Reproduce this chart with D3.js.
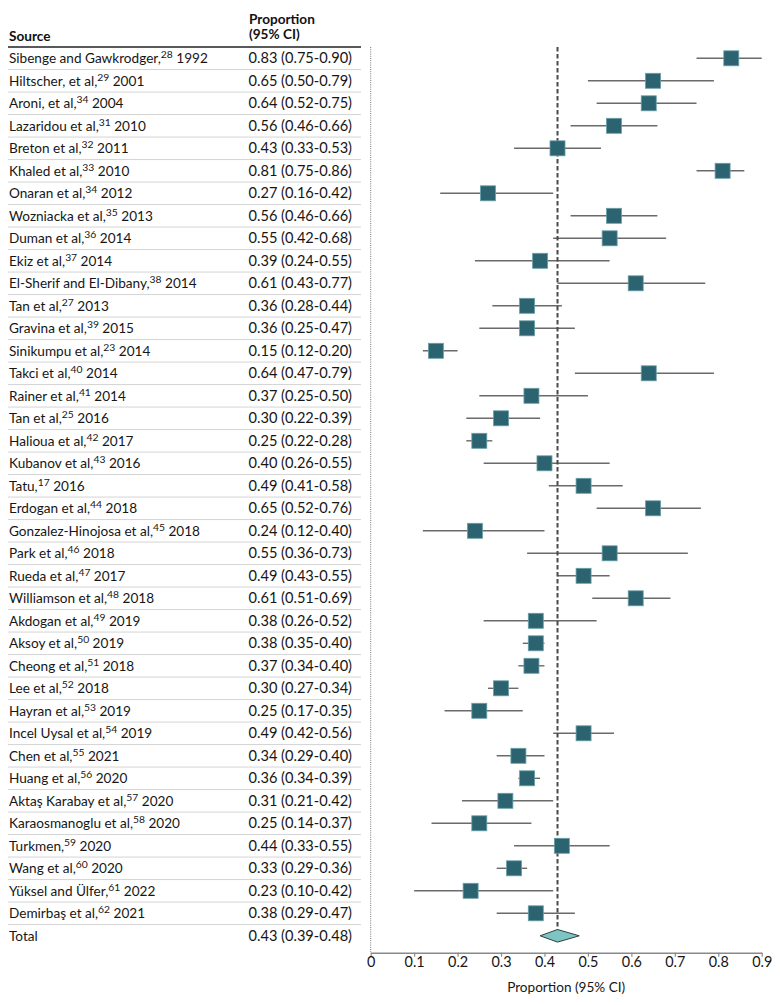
<!DOCTYPE html>
<html><head><meta charset="utf-8">
<script src="https://cdn.jsdelivr.net/npm/d3@7"></script>
<style>
body{margin:0;background:#fff;}
svg{font-family:Lato,"Open Sans",sans-serif;}
</style></head>
<body><svg id="c" width="780" height="1005"></svg>
<script>
const sources = ["Sibenge and Gawkrodger,","Hiltscher, et al,","Aroni, et al,","Lazaridou et al,","Breton et al,","Khaled et al,","Onaran et al,","Wozniacka et al,","Duman et al,","Ekiz et al,","El-Sherif and El-Dibany,","Tan et al,","Gravina et al,","Sinikumpu et al,","Takci et al,","Rainer et al,","Tan et al,","Halioua et al,","Kubanov et al,","Tatu,","Erdogan et al,","Gonzalez-Hinojosa et al,","Park et al,","Rueda et al,","Williamson et al,","Akdogan et al,","Aksoy et al,","Cheong et al,","Lee et al,","Hayran et al,","Incel Uysal et al,","Chen et al,","Huang et al,","Aktaş Karabay et al,","Karaosmanoglu et al,","Turkmen,","Wang et al,","Yüksel and Ülfer,","Demirbaş et al,"];
const refs = ["28","29","34","31","32","33","34","35","36","37","38","27","39","23","40","41","25","42","43","17","44","45","46","47","48","49","50","51","52","53","54","55","56","57","58","59","60","61","62"];
const years = ["1992","2001","2004","2010","2011","2010","2012","2013","2014","2014","2014","2013","2015","2014","2014","2014","2016","2017","2016","2016","2018","2018","2018","2017","2018","2019","2019","2018","2018","2019","2019","2021","2020","2020","2020","2020","2020","2022","2021"];
const est = [0.83,0.65,0.64,0.56,0.43,0.81,0.27,0.56,0.55,0.39,0.61,0.36,0.36,0.15,0.64,0.37,0.30,0.25,0.40,0.49,0.65,0.24,0.55,0.49,0.61,0.38,0.38,0.37,0.30,0.25,0.49,0.34,0.36,0.31,0.25,0.44,0.33,0.23,0.38];
const lower = [0.75,0.50,0.52,0.46,0.33,0.75,0.16,0.46,0.42,0.24,0.43,0.28,0.25,0.12,0.47,0.25,0.22,0.22,0.26,0.41,0.52,0.12,0.36,0.43,0.51,0.26,0.35,0.34,0.27,0.17,0.42,0.29,0.34,0.21,0.14,0.33,0.29,0.10,0.29];
const upper = [0.90,0.79,0.75,0.66,0.53,0.86,0.42,0.66,0.68,0.55,0.77,0.44,0.47,0.20,0.79,0.50,0.39,0.28,0.55,0.58,0.76,0.40,0.73,0.55,0.69,0.52,0.40,0.40,0.34,0.35,0.56,0.40,0.39,0.42,0.37,0.55,0.36,0.42,0.47];
const totalLabel = "Total";
const totalEst = 0.43, totalLower = 0.39, totalUpper = 0.48;
const tickValues = [0,0.1,0.2,0.3,0.4,0.5,0.6,0.7,0.8,0.9];
const tickLabels = ["0","0.1","0.2","0.3","0.4","0.5","0.6","0.7","0.8","0.9"];
const xTitle = "Proportion (95% CI)";

const fmt = d3.format(".2f");
const rows = sources.map((s,i)=>({source:s, ref:refs[i], year:years[i], est:est[i], lo:lower[i], hi:upper[i], total:false}));
rows.push({source:totalLabel, ref:"", year:"", est:totalEst, lo:totalLower, hi:totalUpper, total:true});
rows.forEach((r,i)=>r.id=i);

const svg = d3.select("#c");
const x = d3.scaleLinear().domain([0,0.9]).range([370.7,761.7]);
const y = d3.scalePoint().domain(rows.map(r=>r.id)).range([58.3,935.8]);
const step = y.step();
const axisY = 952.7;
const FS = 13.6;
const FSV = 14.6;

// header
const hdr = svg.append("g").attr("font-weight","bold").attr("font-size",FS).attr("fill","#111");
hdr.append("text").attr("x",9).attr("y",41).text("Source");
hdr.append("text").attr("x",249).attr("y",24).text("Proportion");
hdr.append("text").attr("x",249).attr("y",39).text("(95% CI)");
svg.append("line").attr("x1",8).attr("x2",361).attr("y1",47).attr("y2",47).attr("stroke","#222").attr("stroke-width",1.3);

// row separators
svg.append("g").selectAll("line").data(rows.slice(0,-1)).join("line")
  .attr("x1",8).attr("x2",361)
  .attr("y1",d=>y(d.id)+step/2).attr("y2",d=>y(d.id)+step/2)
  .attr("stroke","#d4d4d4").attr("stroke-width",1);

// text rows
const tg = svg.append("g").attr("fill","#161616");
const lbl = tg.selectAll("text.src").data(rows).join("text").attr("class","src")
  .attr("font-size",FS).attr("x",9).attr("y",d=>y(d.id)+5);
lbl.append("tspan").text(d=>d.source);
lbl.filter(d=>!d.total).append("tspan").attr("font-size",FS*0.76).attr("dy",-5).text(d=>d.ref);
lbl.filter(d=>!d.total).append("tspan").attr("dy",5).text(d=>"\u00a0"+d.year);

tg.selectAll("text.val").data(rows).join("text").attr("class","val")
  .attr("font-size",FSV).attr("x",352).attr("y",d=>y(d.id)+5).attr("text-anchor","end")
  .text(d=>`${fmt(d.est)} (${fmt(d.lo)}-${fmt(d.hi)})`);

// dotted zero line
svg.append("line").attr("x1",x(0)).attr("x2",x(0)).attr("y1",47).attr("y2",axisY)
  .attr("stroke","#777").attr("stroke-width",1).attr("stroke-dasharray","1,1.2");

// CI lines
svg.append("g").selectAll("line").data(rows.filter(r=>!r.total)).join("line")
  .attr("x1",d=>x(d.lo)).attr("x2",d=>x(d.hi))
  .attr("y1",d=>y(d.id)).attr("y2",d=>y(d.id))
  .attr("stroke","#6a6a6a").attr("stroke-width",1.4);

// dashed overall line
const tot = rows[rows.length-1];
svg.append("line").attr("x1",x(tot.est)).attr("x2",x(tot.est)).attr("y1",47).attr("y2",y(tot.id)-6)
  .attr("stroke","#4a4a4a").attr("stroke-width",2).attr("stroke-dasharray","4.5,2.5");

// squares
const S = 15;
svg.append("g").selectAll("rect").data(rows.filter(r=>!r.total)).join("rect")
  .attr("x",d=>x(d.est)-S/2).attr("y",d=>y(d.id)-S/2).attr("width",S).attr("height",S)
  .attr("fill","#2c6370").attr("stroke","#6a9fa6").attr("stroke-width",0.8);

// diamond
const ty = y(tot.id);
svg.append("path")
  .attr("d",`M${x(tot.lo)},${ty} L${x(tot.est)},${ty-6.3} L${x(tot.hi)},${ty} L${x(tot.est)},${ty+6.3} Z`)
  .attr("fill","#7cc5c3").attr("stroke","#2f3f40").attr("stroke-width",1);

// axis
const ax = svg.append("g").attr("transform",`translate(0,${axisY})`)
  .call(d3.axisBottom(x).tickValues(tickValues).tickFormat((d,i)=>tickLabels[i]).tickSize(4).tickSizeOuter(0));
ax.select(".domain").attr("stroke","#8a8a8a").attr("stroke-width",1.5);
ax.selectAll(".tick line").attr("stroke","#8a8a8a").attr("stroke-width",1.2);
ax.selectAll(".tick text").attr("font-family","Lato,'Open Sans',sans-serif").attr("font-size",14.4).attr("fill","#161616").attr("dy","0.6em").attr("y",6);

svg.append("text").attr("x",(x(0)+x(0.9))/2).attr("y",992).attr("text-anchor","middle")
  .attr("font-size",FS).attr("fill","#161616").text(xTitle);
</script></body></html>
